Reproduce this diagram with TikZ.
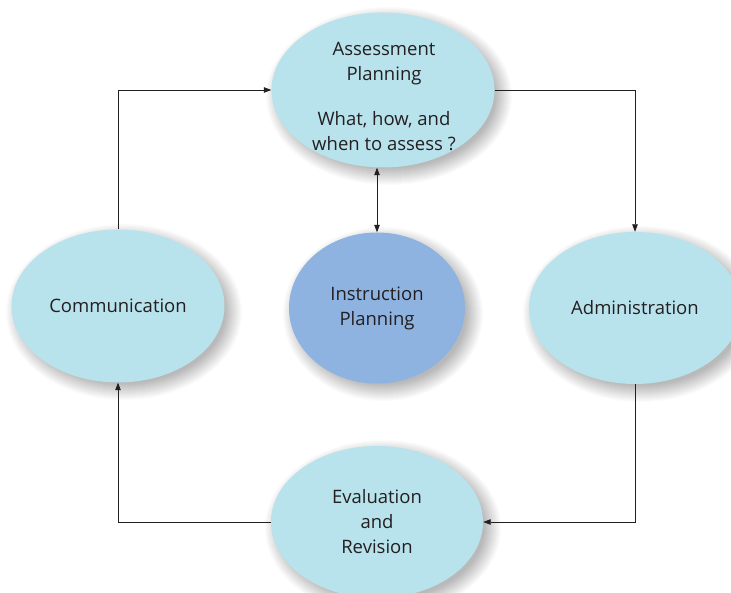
\documentclass[tikz,border=0pt]{standalone}
\usepackage{fontspec}
\setmainfont{Open Sans}
\usetikzlibrary{shapes.geometric,arrows.meta}
\definecolor{lblue}{HTML}{B8E2EC}
\definecolor{mblue}{HTML}{8EB3E0}
\definecolor{txt}{HTML}{231F20}
\tikzset{
  oval/.style={ellipse, fill=lblue, inner sep=0pt, align=center, text=txt,
    font=\fontsize{18.5}{25}\selectfont},
  lbl/.style={align=center, text=txt, inner sep=0pt, font=\fontsize{18.5}{25}\selectfont},
  link/.style={draw=txt, line width=0.8pt, -{Triangle[length=7.5pt,width=5.5pt]}},
}
\newcommand{\softshadow}[4]{%
  \foreach \i in {0,...,17}{%
    \fill[black, opacity=0.017] (#1+6,#2+6) ellipse [x radius={(#3-5+\i)*1pt}, y radius={(#4-5+\i)*1pt}];%
  }}
\begin{document}
\begin{tikzpicture}[x=1pt,y=-1pt]
\useasboundingbox (0,0) rectangle (731,593);
\clip (0,0) rectangle (731,593);
\fill[white] (0,0) rectangle (731,593);
\softshadow{383}{90}{111}{77}
\softshadow{118}{306}{106}{76}
\softshadow{635}{308}{106}{76}
\softshadow{377}{308}{88}{75}
\softshadow{377}{522}{106}{76}
\node[oval, minimum width=223pt, minimum height=155pt] (assess) at (383,90) {};
\node[lbl] (assesstxt) at (384,97) {Assessment\\Planning\\[20pt]What, how, and\\when to assess ?};
\node[oval, minimum width=213pt, minimum height=153pt] (comm) at (118,306) {Communication};
\node[oval, minimum width=212pt, minimum height=152pt] (admin) at (635,308) {Administration};
\node[oval, fill=mblue, minimum width=176pt, minimum height=151pt] (instr) at (377,308) {Instruction\\Planning};
\node[oval, minimum width=212pt, minimum height=152pt] (eval) at (377,522) {Evaluation\\and\\Revision};
\draw[link] (comm.north) |- (assess.west);
\draw[link] (assess.east) -| (admin.north);
\draw[link] (admin.south) |- (eval.east);
\draw[link] (eval.west) -| (comm.south);
\draw[link, {Triangle[length=7.5pt,width=5.5pt]}-{Triangle[length=7.5pt,width=5.5pt]}] (instr.north |- assess.south) -- (instr.north);
\end{tikzpicture}
\end{document}
